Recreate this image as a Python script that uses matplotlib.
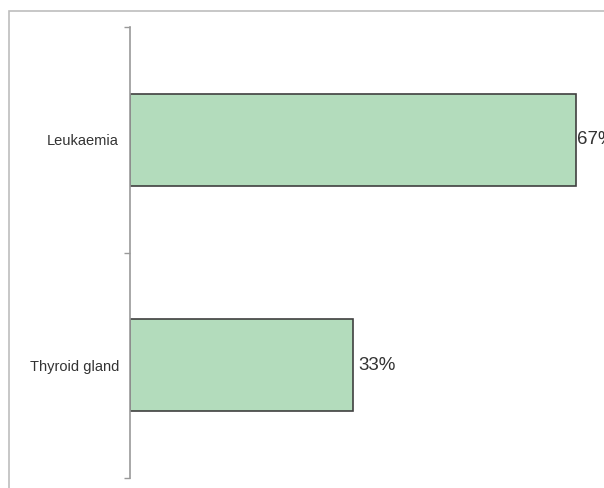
import matplotlib
matplotlib.use("Agg")
import matplotlib.pyplot as plt
from matplotlib.patches import Rectangle

categories = ["Thyroid gland", "Leukaemia"]
shares = [33.3, 66.7]
labels = ["33%", "67%"]

plt.rcParams['font.family'] = ['Liberation Sans', 'DejaVu Sans']

fig = plt.figure(figsize=(6.04, 4.88), dpi=100)
W, H = 604, 488

# outer chart frame, runs off the right and bottom edge
fig.patches.append(Rectangle((9 / W, -0.05), 1.2, (H - 11) / H + 0.05,
                             transform=fig.transFigure, fill=False,
                             edgecolor='#bdbdbd', linewidth=1.2))

ax = fig.add_axes([130 / W, (H - 478) / H, (W - 130) / W, (478 - 27) / H])
ax.barh(range(len(categories)), shares, height=0.41, color='#b3dcbc',
        edgecolor='#404040', linewidth=1.2)

xmax = (W - 130) / ((576 - 130) / 66.7)
for i, (v, t) in enumerate(zip(shares, labels)):
    # label is pushed against the bar when it runs out of room
    x = min(v + 0.8, xmax - 4.1)
    ax.text(x, i, t, va='center', ha='left', fontsize=13.5, color='#333333',
            clip_on=False)

ax.set_xlim(0, xmax)
ax.set_ylim(-0.5, 1.5)
ax.set_yticks(range(len(categories)))
ax.set_yticklabels(categories, fontsize=10.5, color='#333333')
ax.set_yticks([-0.5, 0.5, 1.5], minor=True)
ax.tick_params(axis='y', which='major', length=0, pad=8)
ax.tick_params(axis='y', which='minor', length=4, color='#999999', width=1)
ax.set_xticks([])
for s in ['top', 'right', 'bottom']:
    ax.spines[s].set_visible(False)
ax.spines['left'].set_color('#999999')
ax.spines['left'].set_linewidth(1.2)

fig.savefig("out.png", dpi=100)
